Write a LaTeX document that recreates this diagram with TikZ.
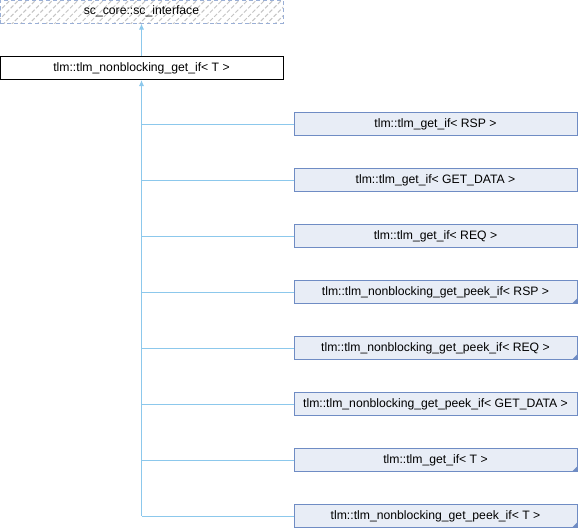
\documentclass[tikz,border=0pt]{standalone}
\usepackage{fontspec}
\setmainfont{Liberation Sans}
\usetikzlibrary{arrows.meta,patterns.meta}
\definecolor{boxrand}{HTML}{6F8CC4}
\definecolor{boxvul}{HTML}{E8EDF6}
\definecolor{lijnblauw}{HTML}{8CC8EC}
\definecolor{streep}{HTML}{C4C4C4}
\tikzset{
  klasse/.style={draw=boxrand, fill=boxvul, line width=1pt, minimum width=283pt, minimum height=23pt, inner sep=0pt, font=\fontsize{12.2}{14}\selectfont},
  hoofd/.style={klasse, draw=black, fill=white},
  extern/.style={klasse, draw=boxrand!70, dashed, dash pattern=on 4pt off 3pt, pattern={Lines[angle=45,distance=6pt,line width=1pt]}, pattern color=streep},
  gevouwen/.style={path picture={\fill[boxrand] (path picture bounding box.south east) -- ++(-5pt,0pt) -- ++(5pt,5pt) -- cycle;}},
  erf/.style={draw=lijnblauw, line width=1pt},
}
\begin{document}
\begin{tikzpicture}[x=1pt, y=-1pt]
  \useasboundingbox (0,0) rectangle (578,528);

  % Basisklassen
  \node[extern] (iface) at (141.5,11.5) {sc\_core::sc\_interface};
  \node[hoofd] (getif) at (141.5,68) {tlm::tlm\_nonblocking\_get\_if< T >};

  % Afgeleide klassen
  \node[klasse] (rsp) at (435.5,124) {tlm::tlm\_get\_if< RSP >};
  \node[klasse] (data) at (435.5,180) {tlm::tlm\_get\_if< GET\_DATA >};
  \node[klasse] (req) at (435.5,236) {tlm::tlm\_get\_if< REQ >};
  \node[klasse, gevouwen] (peekrsp) at (435.5,292) {tlm::tlm\_nonblocking\_get\_peek\_if< RSP >};
  \node[klasse, gevouwen] (peekreq) at (435.5,348) {tlm::tlm\_nonblocking\_get\_peek\_if< REQ >};
  \node[klasse] (peekdata) at (435.5,404) {tlm::tlm\_nonblocking\_get\_peek\_if< GET\_DATA >};
  \node[klasse, gevouwen] (gett) at (435.5,460) {tlm::tlm\_get\_if< T >};
  \node[klasse, gevouwen] (peekt) at (435.5,516) {tlm::tlm\_nonblocking\_get\_peek\_if< T >};

  % Overerving
  \draw[erf, -{Latex[length=6pt,width=5pt]}] (getif.north) -- (iface.south);
  \coordinate (stam) at (peekt.west -| getif.south);
  \draw[erf, -{Latex[length=6pt,width=5pt]}] (stam) -- (getif.south);
  \draw[erf] (rsp.west) -- (rsp.west -| stam);
  \draw[erf] (data.west) -- (data.west -| stam);
  \draw[erf] (req.west) -- (req.west -| stam);
  \draw[erf] (peekrsp.west) -- (peekrsp.west -| stam);
  \draw[erf] (peekreq.west) -- (peekreq.west -| stam);
  \draw[erf] (peekdata.west) -- (peekdata.west -| stam);
  \draw[erf] (gett.west) -- (gett.west -| stam);
  \draw[erf] (peekt.west) -- (stam);
\end{tikzpicture}
\end{document}
